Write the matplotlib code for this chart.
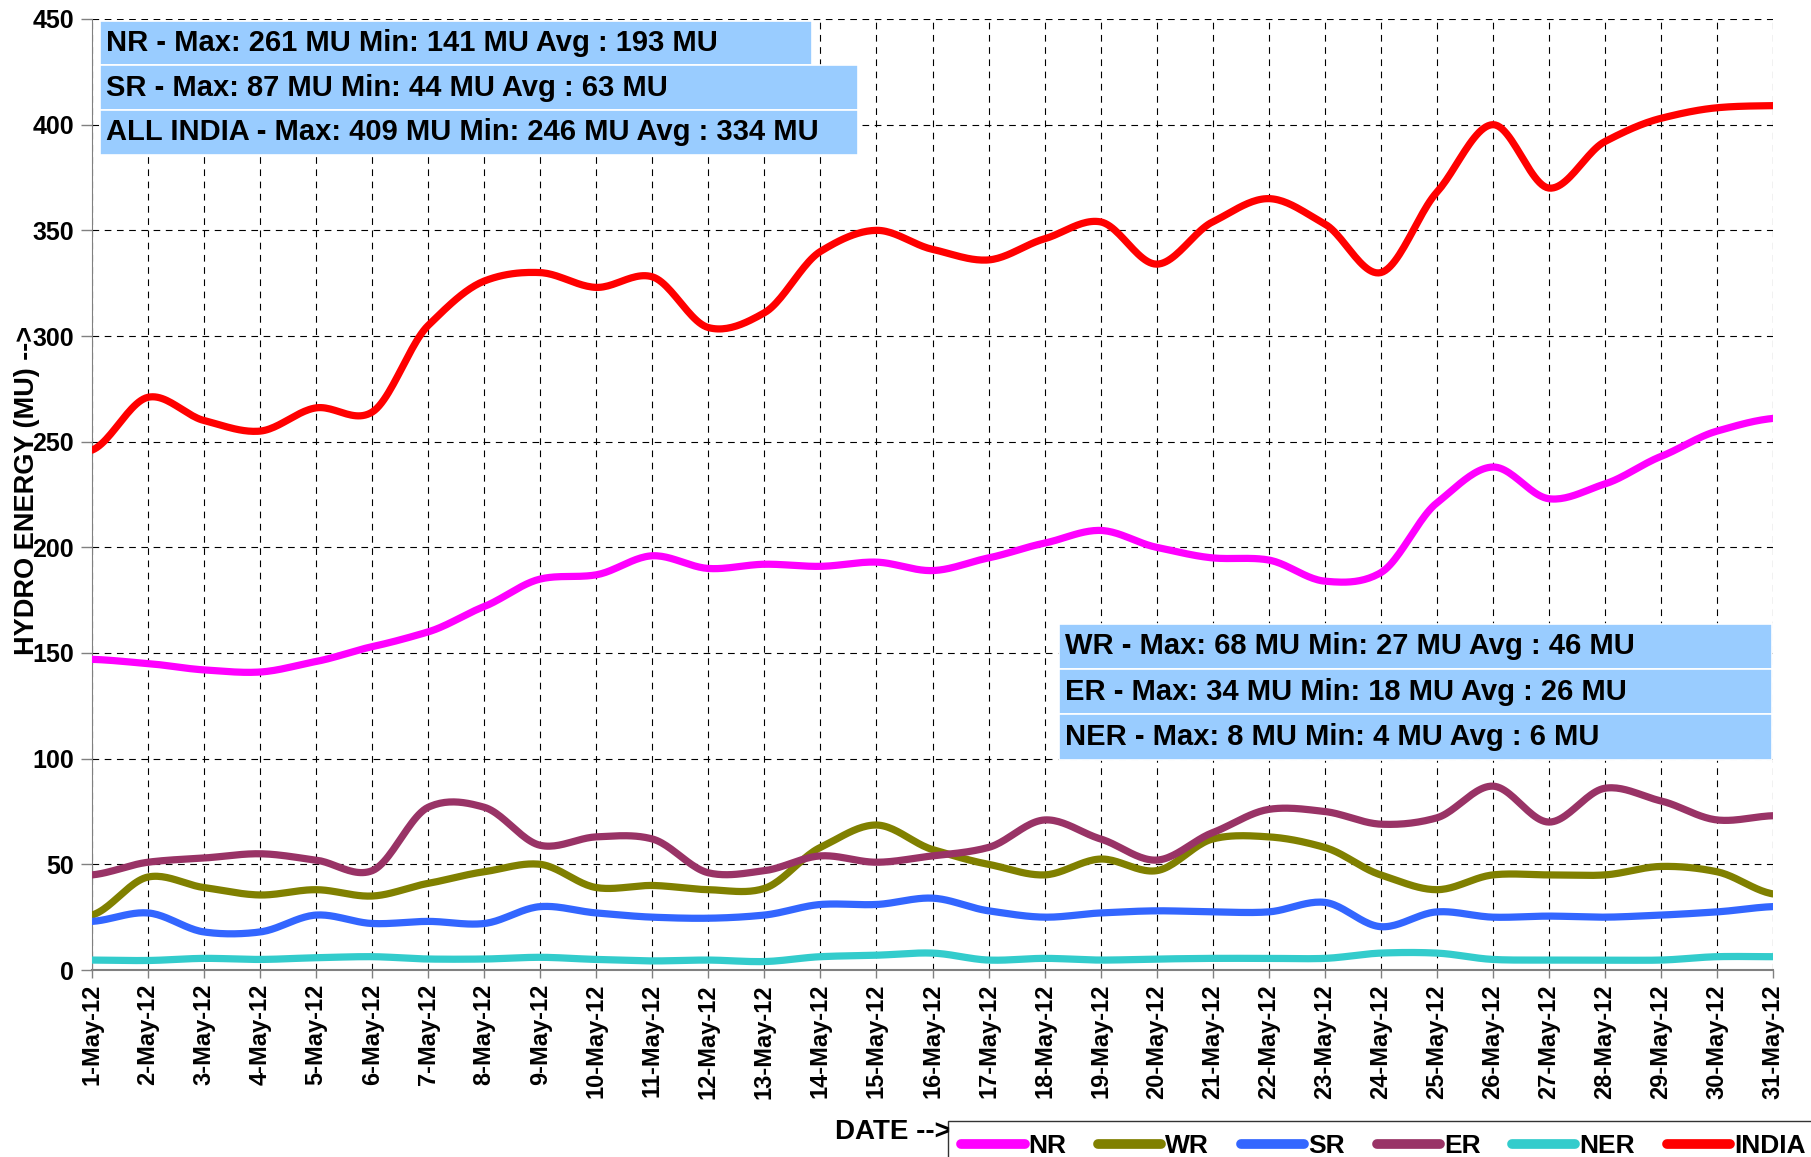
import matplotlib
matplotlib.use("Agg")
import matplotlib.pyplot as plt
import numpy as np
from matplotlib.patches import Rectangle

plt.rcParams["font.family"] = ["Liberation Sans", "DejaVu Sans"]
plt.rcParams["font.weight"] = "bold"

days = np.arange(1, 32)
date_labels = [f"{d}-May-12" for d in days]

nr = [147, 145, 142, 141, 146, 153, 160, 172, 185, 187, 196, 190, 192, 191, 193, 189,
      195, 202, 208, 200, 195, 194, 184, 188, 221, 238, 223, 230, 243, 255, 261]
wr = [26, 44, 39, 35.5, 38, 35, 41, 46.5, 50, 39, 40, 38, 38.6, 58, 68.6, 57,
      50, 45, 52.5, 47, 62, 63, 58, 45, 38, 45, 45, 45, 49, 46.5, 36]
sr = [23, 27, 18, 18, 26, 22, 23, 22, 30, 27, 25, 24.5, 26, 31, 31, 34,
      28, 25, 27, 28, 27.5, 27.5, 32, 20.5, 27.5, 25, 25.5, 25, 26, 27.5, 30]
er = [45, 51, 53, 55, 52, 47, 77, 77, 59, 63, 62, 46, 47, 54, 51, 54,
      58, 71, 62, 52, 65, 76, 75, 69, 72, 87, 70, 86, 80, 71, 73]
ner = [4.7, 4.5, 5.5, 5, 5.8, 6.3, 5.2, 5.2, 6, 5, 4.3, 4.7, 4, 6.3, 7, 8,
       4.7, 5.5, 4.7, 5.2, 5.5, 5.5, 5.5, 8, 8, 5, 4.7, 4.7, 4.7, 6.3, 6.3]
india = [246, 271, 260, 255, 266, 264, 305, 326, 330, 323, 328, 304, 311, 340, 350, 341,
         336, 346, 354, 334, 354, 365, 353, 330, 368, 400, 370, 392, 403, 408, 409]

series = [("NR", nr, "#FF00FF"), ("WR", wr, "#808000"), ("SR", sr, "#3366FF"),
          ("ER", er, "#993366"), ("NER", ner, "#33CCCC"), ("INDIA", india, "#FF0000")]

stats_top = ["NR - Max: 261 MU Min: 141 MU Avg : 193 MU",
             "SR - Max: 87 MU Min: 44 MU Avg : 63 MU",
             "ALL INDIA - Max: 409 MU Min: 246 MU Avg : 334 MU"]
stats_right = ["WR - Max: 68 MU Min: 27 MU Avg : 46 MU",
               "ER - Max: 34 MU Min: 18 MU Avg : 26 MU",
               "NER - Max: 8 MU Min: 4 MU Avg : 6 MU"]


def smooth(x, y, n=24):
    # Catmull-Rom style smoothing, like the spreadsheet's smoothed lines
    x = np.asarray(x, float)
    y = np.asarray(y, float)
    px = np.concatenate([[2 * x[0] - x[1]], x, [2 * x[-1] - x[-2]]])
    py = np.concatenate([[y[0]], y, [y[-1]]])
    xs, ys = [], []
    t = np.linspace(0, 1, n, endpoint=False)
    for i in range(1, len(px) - 2):
        p0, p1, p2, p3 = py[i - 1], py[i], py[i + 1], py[i + 2]
        m1 = (p2 - p0) / 2 / 1.2
        m2 = (p3 - p1) / 2 / 1.2
        h00 = 2 * t**3 - 3 * t**2 + 1
        h10 = t**3 - 2 * t**2 + t
        h01 = -2 * t**3 + 3 * t**2
        h11 = t**3 - t**2
        ys.append(h00 * p1 + h10 * m1 + h01 * p2 + h11 * m2)
        xs.append(px[i] + t * (px[i + 1] - px[i]))
    xs.append([x[-1]])
    ys.append([y[-1]])
    return np.concatenate(xs), np.concatenate(ys)


W, H = 1811, 1157
fig = plt.figure(figsize=(W / 100, H / 100), dpi=100)
ax = fig.add_axes([92 / W, 1 - 970 / H, (1773 - 92) / W, (970 - 19) / H])

for name, vals, col in series:
    sx, sy = smooth(days, vals)
    ax.plot(sx, sy, color=col, lw=5.2, solid_capstyle="round", label=name, zorder=3)

ax.set_xlim(1, 31)
ax.set_ylim(0, 450)
ax.set_yticks(np.arange(0, 451, 50))
ax.set_xticks(days)
ax.set_xticklabels(date_labels, rotation=90, fontsize=17, fontweight="bold")
ax.tick_params(axis="y", labelsize=18, length=8, width=1, color="#808080", pad=5)
ax.tick_params(axis="x", length=6, width=1, color="#808080", pad=4)
for lab in ax.get_yticklabels():
    lab.set_fontweight("bold")
ax.grid(True, color="black", linestyle=(0, (6, 5)), linewidth=0.8)
ax.set_axisbelow(True)
for s in ["top", "right"]:
    ax.spines[s].set_visible(False)
ax.spines["left"].set_color("#808080")
ax.spines["bottom"].set_color("#808080")
ax.spines["bottom"].set_linewidth(1.5)


def px_box(x0, y0, x1, y1, text):
    fig.patches.append(Rectangle((x0 / W, 1 - y1 / H), (x1 - x0) / W, (y1 - y0) / H,
                                 transform=fig.transFigure, facecolor="#99CCFF",
                                 edgecolor="white", linewidth=1.2, zorder=5))
    fig.text((x0 + 6) / W, 1 - (y0 + y1) / 2 / H, text, fontsize=21, fontweight="bold",
             va="center", ha="left", zorder=6)


px_box(100, 21, 812, 65, stats_top[0])
px_box(100, 65, 858, 110, stats_top[1])
px_box(100, 110, 858, 155, stats_top[2])
px_box(1059, 624, 1772, 669, stats_right[0])
px_box(1059, 669, 1772, 714, stats_right[1])
px_box(1059, 714, 1772, 760, stats_right[2])

fig.text(27 / W, 1 - 490 / H, "HYDRO ENERGY (MU) -->", rotation=90, fontsize=19.5,
         fontweight="bold", ha="center", va="center")
fig.text(835 / W, 1 - 1132 / H, "DATE -->", fontsize=20, fontweight="bold",
         ha="left", va="center")

leg = fig.legend(loc="upper left", bbox_to_anchor=(948 / W, 1 - 1121 / H), ncol=6,
                 frameon=True, fancybox=False, edgecolor="black", fontsize=19,
                 handlelength=2.4, handletextpad=0.15, columnspacing=1.2,
                 borderpad=0.5, borderaxespad=0)
leg.get_frame().set_linewidth(1)
for lh in leg.get_lines():
    lh.set_linewidth(7)

fig.savefig("out.png", dpi=100)
